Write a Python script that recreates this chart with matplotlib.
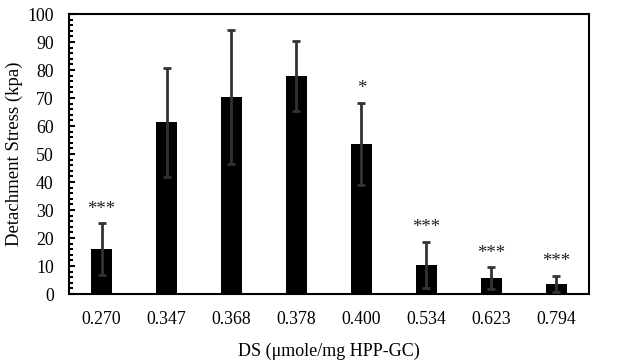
import numpy as np
import matplotlib.pyplot as plt
from matplotlib.ticker import MultipleLocator

# data
ds_labels = ["0.270", "0.347", "0.368", "0.378", "0.400", "0.534", "0.623", "0.794"]
stress = [16.0, 61.3, 70.4, 77.9, 53.6, 10.4, 5.7, 3.6]
stress_sd = [9.3, 19.5, 24.0, 12.5, 14.6, 8.2, 3.9, 2.8]
marks = ["***", "", "", "", "*", "***", "***", "***"]

plt.rcParams["font.family"] = ["Liberation Serif", "DejaVu Serif"]

fig = plt.figure(figsize=(6.29, 3.64), dpi=100)
ax = fig.add_axes([0.1097, 0.1923, 0.8267, 0.7692])

x = np.arange(len(ds_labels))
ax.bar(x, stress, width=0.32, color="black", zorder=2)
ax.errorbar(x, stress, yerr=stress_sd, fmt="none", ecolor="#333333",
            elinewidth=2, capsize=3, capthick=2, zorder=3)

for xi, v, e, m in zip(x, stress, stress_sd, marks):
    if m:
        ax.text(xi, v + e + 2, m, ha="center", va="bottom", fontsize=13.5,
                color="#222222")

ax.set_xlim(-0.5, len(ds_labels) - 0.5)
ax.set_ylim(0, 100)
ax.set_xticks(x)
ax.set_xticklabels(ds_labels, fontsize=12.8)
ax.yaxis.set_major_locator(MultipleLocator(10))
ax.yaxis.set_minor_locator(MultipleLocator(2))
ax.tick_params(axis="y", which="major", direction="in", length=4, width=1.5,
               labelsize=12.8, pad=11)
ax.tick_params(axis="y", which="minor", direction="in", length=3, width=1.5)
ax.tick_params(axis="x", length=0, pad=12)

for s in ax.spines.values():
    s.set_linewidth(1.5)
    s.set_color("black")

ax.set_ylabel("Detachment Stress (kpa)", fontsize=13.5, labelpad=3)
ax.set_xlabel("DS (\u03bcmole/mg HPP-GC)", fontsize=13, labelpad=11)

plt.savefig("out.png", dpi=100)
